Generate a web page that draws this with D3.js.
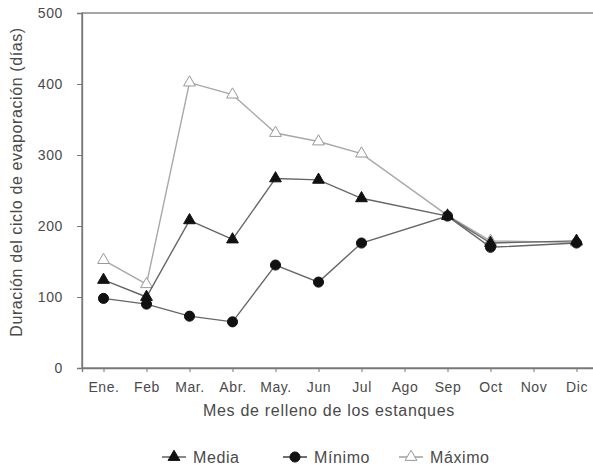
<!DOCTYPE html>
<html>
<head>
<meta charset="utf-8">
<script src="https://cdn.jsdelivr.net/npm/d3@7/dist/d3.min.js"></script>
<style>
  html, body { margin: 0; padding: 0; background: #fff; }
  svg { display: block; font-family: "Liberation Sans", Arial, sans-serif; }
</style>
</head>
<body>
<svg id="chart" width="593" height="467"></svg>
<script>
// Month of pond filling
const months = ["Ene.", "Feb", "Mar.", "Abr.", "May.", "Jun", "Jul", "Ago", "Sep", "Oct", "Nov", "Dic"];
// Evaporation cycle duration (days); null = no filling that month
const media  = [124, 100, 208, 181, 267, 265, 239, null, 214, 176, null, 179];
const minimo = [98,  90,  73,  65,  145, 121, 176, null, 214, 170, null, 176];
const maximo = [152, 118, 402, 385, 331, 319, 302, null, 215, 179, null, 177];
const yTicks = [0, 100, 200, 300, 400, 500];

const svg = d3.select("#chart");
const plot = { left: 82, right: 598, top: 13, bottom: 368 };
const textColor = "#4a4a4a";

const x = d3.scalePoint().domain(months).range([plot.left, plot.right]).padding(0.5);
const y = d3.scaleLinear().domain([0, 500]).range([plot.bottom, plot.top]);

// frame
svg.append("rect")
  .attr("x", plot.left).attr("y", plot.top)
  .attr("width", plot.right - plot.left).attr("height", plot.bottom - plot.top)
  .attr("fill", "none").attr("stroke", "#777").attr("stroke-width", 1.3);

// y axis
const yAxis = svg.append("g")
  .attr("transform", `translate(${plot.left},0)`)
  .call(d3.axisLeft(y).tickValues(yTicks).tickSize(5).tickPadding(14));
yAxis.select(".domain").attr("stroke", "#777").attr("stroke-width", 1.3);
yAxis.selectAll(".tick line").attr("stroke", "#777");
yAxis.selectAll(".tick text").attr("fill", textColor)
  .style("font-size", "14px").style("letter-spacing", "0.6px")
  .style("font-family", "Liberation Sans, Arial, sans-serif");

// x axis
const xAxis = svg.append("g")
  .attr("transform", `translate(0,${plot.bottom})`)
  .call(d3.axisBottom(x).tickSize(4).tickPadding(10));
xAxis.select(".domain").attr("stroke", "#777").attr("stroke-width", 1.3);
xAxis.selectAll(".tick line").attr("stroke", "#777");
xAxis.selectAll(".tick text").attr("fill", textColor)
  .style("font-size", "14px").style("letter-spacing", "0.6px")
  .style("font-family", "Liberation Sans, Arial, sans-serif");

// axis titles
svg.append("text")
  .attr("x", 329).attr("y", 416)
  .attr("text-anchor", "middle")
  .attr("fill", textColor)
  .style("font-size", "16px").style("letter-spacing", "0.7px")
  .text("Mes de relleno de los estanques");

svg.append("text")
  .attr("transform", "translate(22,182) rotate(-90)")
  .attr("text-anchor", "middle")
  .attr("fill", textColor)
  .style("font-size", "16px").style("letter-spacing", "0.6px")
  .text("Duración del ciclo de evaporación (días)");

// months without data are skipped, so the line joins the neighbouring points
const line = d3.line()
  .x(d => x(d.m))
  .y(d => y(d.v));

const series = [
  { name: "Máximo", values: maximo, stroke: "#a8a8a8", marker: "triangle", fill: "#fff", mstroke: "#999" },
  { name: "Mínimo", values: minimo, stroke: "#666", marker: "circle", fill: "#111", mstroke: "#111" },
  { name: "Media",  values: media,  stroke: "#666", marker: "triangle", fill: "#111", mstroke: "#111" }
];

const triSym = d3.symbol().type(d3.symbolTriangle).size(60);
const cirSym = d3.symbol().type(d3.symbolCircle).size(80);

series.forEach(s => {
  const pts = months.map((m, i) => ({ m, v: s.values[i] })).filter(d => d.v !== null);
  svg.append("path")
    .datum(pts)
    .attr("d", line)
    .attr("fill", "none")
    .attr("stroke", s.stroke)
    .attr("stroke-width", 1.4);
  svg.append("g").selectAll("path")
    .data(pts)
    .join("path")
    .attr("transform", d => `translate(${x(d.m)},${y(d.v)})`)
    .attr("d", s.marker === "triangle" ? triSym : cirSym)
    .attr("fill", s.fill)
    .attr("stroke", s.mstroke)
    .attr("stroke-width", 1);
});

// legend
const legend = [
  { name: "Media",  cx: 174, marker: "triangle", fill: "#111", mstroke: "#111", stroke: "#555" },
  { name: "Mínimo", cx: 295, marker: "circle",   fill: "#111", mstroke: "#111", stroke: "#333" },
  { name: "Máximo", cx: 411, marker: "triangle", fill: "#fff", mstroke: "#999", stroke: "#999" }
];
const ly = 457;
legend.forEach(l => {
  const g = svg.append("g");
  g.append("line")
    .attr("x1", l.cx - 12).attr("x2", l.cx + 12)
    .attr("y1", ly).attr("y2", ly)
    .attr("stroke", l.stroke).attr("stroke-width", 1.4);
  g.append("path")
    .attr("transform", `translate(${l.cx},${ly})`)
    .attr("d", l.marker === "triangle" ? triSym : cirSym)
    .attr("fill", l.fill).attr("stroke", l.mstroke);
  g.append("text")
    .attr("x", l.cx + 19).attr("y", ly + 6)
    .attr("fill", textColor)
    .style("font-size", "16px").style("letter-spacing", "0.6px")
    .text(l.name);
});
</script>
</body>
</html>
